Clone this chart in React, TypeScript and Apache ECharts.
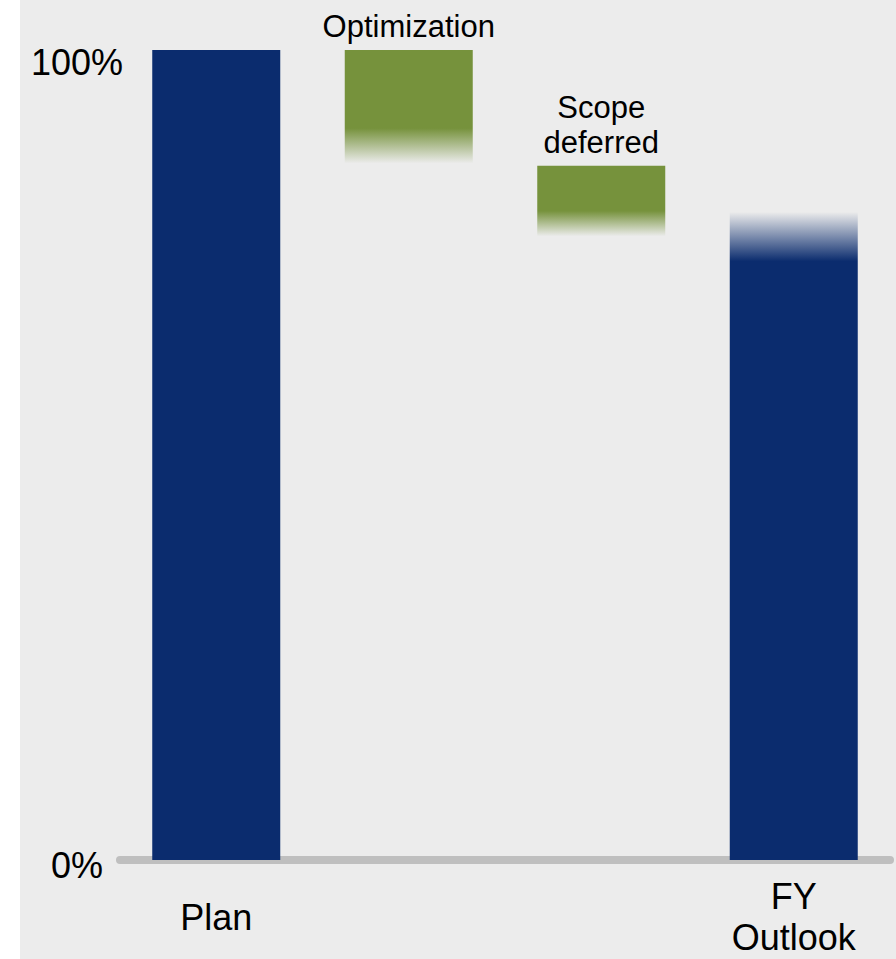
import React, { useEffect, useRef } from "react";
import * as echarts from "echarts";

// Waterfall: plan, two reductions, outlook (percent of plan)
const categories = ["Plan", "Optimization", "Scope\ndeferred", "FY\nOutlook"];
const barKinds = ["total", "step", "step", "total"];
const barTops = [100, 100, 85.7, 80];
const barBottoms = [0, 86, 77, 0];
const yTicks = [0, 100];

const NAVY = "#0b2c6e";
const GREEN = "#76923c";
const FONT = 'Arial, "Liberation Sans", sans-serif';

// Solid share of each bar before it fades out (steps fade at the bottom, outlook at the top)
const fadeShape = [
  { solidFrom: 0, solidTo: 1 },
  { solidFrom: 0, solidTo: 0.69 },
  { solidFrom: 0, solidTo: 0.64 },
  { solidFrom: 0.076, solidTo: 1 },
];

function withAlpha(hex: string, a: number) {
  const n = parseInt(hex.slice(1), 16);
  return `rgba(${(n >> 16) & 255},${(n >> 8) & 255},${n & 255},${a})`;
}

function barFill(i: number) {
  const c = barKinds[i] === "total" ? NAVY : GREEN;
  const f = fadeShape[i];
  if (f.solidFrom === 0 && f.solidTo === 1) return c;
  const stops: { offset: number; color: string }[] = [];
  if (f.solidFrom > 0) stops.push({ offset: 0, color: withAlpha(c, 0) });
  stops.push({ offset: f.solidFrom, color: c });
  stops.push({ offset: f.solidTo, color: c });
  if (f.solidTo < 1) stops.push({ offset: 1, color: withAlpha(c, 0) });
  return new echarts.graphic.LinearGradient(0, 0, 0, 1, stops);
}

export default function App() {
  const ref = useRef<HTMLDivElement>(null);

  useEffect(() => {
    if (!ref.current) return;
    const chart = echarts.init(ref.current, undefined, { renderer: "svg" });

    chart.setOption({
      animation: false,
      backgroundColor: "#ececec",
      textStyle: { fontFamily: FONT },
      grid: { left: 100, right: 6, top: 50, bottom: 99, containLabel: false },
      xAxis: {
        type: "category",
        data: categories,
        offset: 5,
        axisLine: { show: true, lineStyle: { color: "#bfbfbf", width: 8 } },
        axisTick: { show: false },
        axisLabel: {
          interval: 0,
          color: "#000",
          fontSize: 36,
          lineHeight: 41,
          fontFamily: FONT,
          verticalAlign: "middle",
          margin: 52,
          formatter: (v: string, idx: number) => (barKinds[idx] === "total" ? v : ""),
        },
      },
      yAxis: {
        type: "value",
        min: yTicks[0],
        max: yTicks[yTicks.length - 1],
        interval: yTicks[1] - yTicks[0],
        splitLine: { show: false },
        axisLine: { show: false },
        axisTick: { show: false },
        axisLabel: {
          color: "#000",
          fontSize: 36,
          fontFamily: FONT,
          align: "center",
          verticalAlign: "top",
          margin: 43,
          formatter: (v: number) => (v === yTicks[yTicks.length - 1] ? `{top|${v}%}` : `{base|${v}%}`),
          rich: {
            top: { fontSize: 36, lineHeight: 24, fontFamily: FONT, color: "#000" },
            base: { fontSize: 36, lineHeight: 10, fontFamily: FONT, color: "#000" },
          },
        },
      },
      series: [
        {
          type: "bar",
          stack: "wf",
          silent: true,
          barWidth: 128,
          itemStyle: { color: "transparent" },
          data: barBottoms,
        },
        {
          type: "bar",
          stack: "wf",
          barWidth: 128,
          data: barTops.map((t, i) => ({
            value: t - barBottoms[i],
            itemStyle: { color: barFill(i) },
            label: {
              show: barKinds[i] === "step",
              position: "top",
              distance: 6,
              color: "#000",
              fontSize: 31,
              lineHeight: 35,
              fontFamily: FONT,
              formatter: () => categories[i],
            },
          })),
        },
      ],
    });

    return () => chart.dispose();
  }, []);

  return (
    <div style={{ position: "fixed", left: 0, top: 0, width: 896, height: 959, background: "#fff" }}>
      <div ref={ref} style={{ position: "absolute", left: 20, top: 0, width: 876, height: 959 }} />
    </div>
  );
}
